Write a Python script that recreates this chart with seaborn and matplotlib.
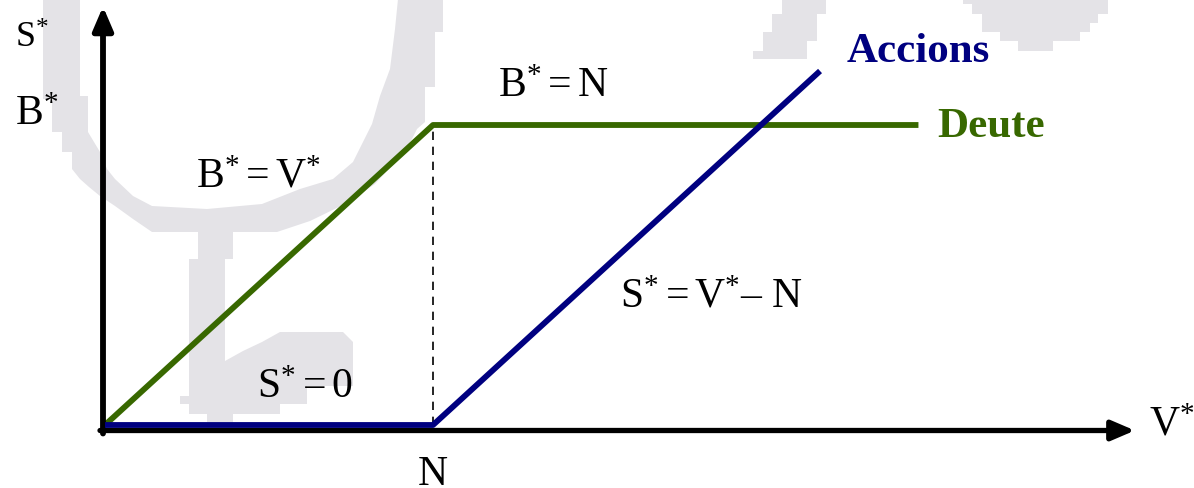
import matplotlib
matplotlib.use("Agg")
import matplotlib.pyplot as plt
import seaborn as sns
import pandas as pd
from matplotlib.patches import Polygon

# ---------------- data ----------------
N_value = 1.0
deute_V = [0.0, 1.0, 2.48]          # Debt payoff  B* = min(V*, N)
deute_B = [0.0, 1.0, 1.0]
accions_V = [0.0, 1.0, 2.18]        # Equity payoff S* = max(V* - N, 0)
accions_S = [0.0, 0.0, 1.18]

label_deute = "Deute"
label_accions = "Accions"

GREEN = "#386800"
NAVY = "#000080"
GREY = "#E4E3E7"

sns.set_theme(style="white")
plt.rcParams["font.family"] = ["Liberation Serif", "DejaVu Serif"]
plt.rcParams["text.color"] = "black"
plt.rcParams["mathtext.fontset"] = "custom"
plt.rcParams["mathtext.rm"] = "Liberation Serif"
plt.rcParams["mathtext.it"] = "Liberation Serif:italic"
plt.rcParams["mathtext.bf"] = "Liberation Serif:bold"

W, H = 1194, 489
fig = plt.figure(figsize=(W / 100, H / 100), dpi=100)
fig.patch.set_facecolor("white")

# ---------------- faint watermark in background ----------------
bg = fig.add_axes([0, 0, 1, 1])
bg.set_xlim(0, W)
bg.set_ylim(H, 0)
bg.axis("off")
u_shape = [(43, 0), (43, 100), (52, 100), (52, 133), (62, 133), (62, 153), (72, 153),
           (72, 170), (80, 180), (89, 188), (100, 197), (115, 207), (133, 220), (152, 233),
           (277, 233), (310, 222), (345, 205), (375, 185), (398, 160), (412, 140), (417, 130),
           (425, 123), (425, 88), (435, 88), (435, 33), (443, 33), (443, 0),
           (398, 0), (395, 30), (390, 70), (380, 97), (372, 125), (363, 143), (353, 163),
           (333, 180), (300, 190), (262, 205), (207, 210), (152, 207), (133, 197), (115, 180),
           (107, 170), (100, 153), (88, 133), (88, 97), (80, 97), (80, 0)]
stem = [(198, 230), (233, 230), (233, 260), (225, 260), (225, 362), (243, 352), (262, 343),
        (280, 333), (343, 333), (353, 343), (353, 387), (307, 387), (307, 405), (280, 405),
        (280, 415), (233, 415), (233, 423), (207, 423), (207, 415), (189, 415), (189, 405),
        (180, 405), (180, 397), (189, 397), (189, 260), (198, 260)]
mid_top = [(782, 0), (826, 0), (826, 15), (817, 15), (817, 42), (807, 42), (807, 60),
           (753, 60), (753, 52), (763, 52), (763, 33), (772, 33), (772, 15), (782, 15)]
right_top = [(963, 0), (1108, 0), (1108, 15), (1098, 15), (1098, 24), (1090, 24), (1090, 33),
             (1080, 33), (1080, 42), (1053, 42), (1053, 52), (1018, 52), (1018, 42),
             (1000, 42), (1000, 33), (982, 33), (982, 15), (972, 15), (972, 5), (963, 5)]
for poly in (u_shape, stem, mid_top, right_top):
    bg.add_patch(Polygon(poly, closed=True, facecolor=GREY, edgecolor="none"))

# ---------------- main axes ----------------
ax = fig.add_axes([0, 0, 1, 1])
ax.patch.set_alpha(0)
x0_px, y0_px, sx, sy = 105, 426, 328, 300

df_d = pd.DataFrame({"V": deute_V, "val": deute_B})
df_a = pd.DataFrame({"V": accions_V, "val": accions_S})

# dashed guide at N
ax.plot([N_value, N_value], [0, 1.0], color="black", lw=1.2, ls=(0, (5, 4)), zorder=2)
sns.lineplot(data=df_d, x="V", y="val", ax=ax, color=GREEN, lw=4.2, sort=False,
             estimator=None, solid_capstyle="butt", zorder=3)
sns.lineplot(data=df_a, x="V", y="val", ax=ax, color=NAVY, lw=4.2, sort=False,
             estimator=None, solid_capstyle="butt", zorder=4)
ax.set_xlim(-x0_px / sx, (W - x0_px) / sx)
ax.set_ylim(-(H - y0_px) / sy, y0_px / sy)
ax.axis("off")

# axes with arrows
ax_y = -5.5 / sy
ax_x = -2 / sx
head = "-|>,head_length=1.4,head_width=0.6"
ax.annotate("", xy=(3.14, ax_y), xytext=(-5 / sx, ax_y),
            arrowprops=dict(arrowstyle=head, lw=3.8, color="black",
                            shrinkA=0, shrinkB=0, mutation_scale=10))
ax.annotate("", xy=(ax_x, 1.395), xytext=(ax_x, ax_y - 3 / sy),
            arrowprops=dict(arrowstyle=head, lw=4.2, color="black",
                            shrinkA=0, shrinkB=0, mutation_scale=10))


def P(px, py):
    return ((px - x0_px) / sx, (y0_px - py) / sy)


fs = 30
ax.text(*P(15, 48), r"$\mathrm{S}^{*}$", fontsize=26, ha="left", va="baseline")
ax.text(*P(15, 125), r"$\mathrm{B}^{*}$", fontsize=fs, ha="left", va="baseline")
ax.text(*P(196, 187), r"$\mathrm{B}^{*} = \mathrm{V}^{*}$", fontsize=fs, ha="left", va="baseline")
ax.text(*P(498, 97), r"$\mathrm{B}^{*} = \mathrm{N}$", fontsize=fs, ha="left", va="baseline")
ax.text(*P(257, 398), r"$\mathrm{S}^{*} = 0$", fontsize=fs, ha="left", va="baseline")
ax.text(*P(620, 307), r"$\mathrm{S}^{*} = \mathrm{V}^{*}\mathrm{–\ N}$", fontsize=fs,
        ha="left", va="baseline")
ax.text(*P(1149, 436), r"$\mathrm{V}^{*}$", fontsize=fs, ha="left", va="baseline")
ax.text(*P(433, 485), "N", fontsize=fs, ha="center", va="baseline")
ax.text(*P(847, 62), label_accions, fontsize=31, fontweight="bold", color=NAVY,
        ha="left", va="baseline")
ax.text(*P(937, 137), label_deute, fontsize=31, fontweight="bold", color=GREEN,
        ha="left", va="baseline")

fig.savefig("out.png", dpi=100, facecolor="white")
